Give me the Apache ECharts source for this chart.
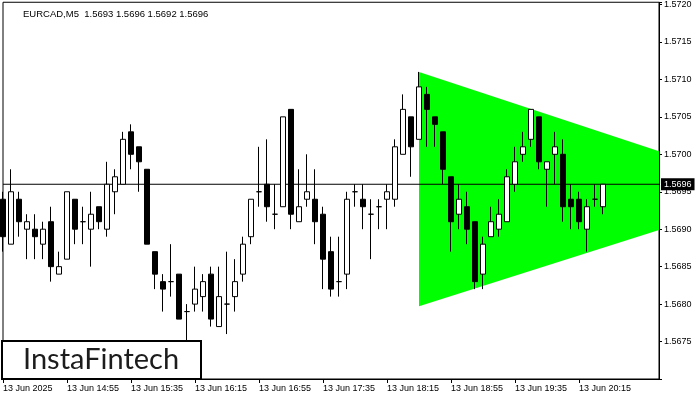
<!DOCTYPE html>
<html>
<head>
<meta charset="utf-8">
<script src="https://cdn.jsdelivr.net/npm/echarts@6/dist/echarts.min.js"></script>
<style>
html,body{margin:0;padding:0;background:#fff;}
#chart{width:700px;height:400px;}
</style>
</head>
<body>
<div id="chart"></div>
<script>
// ---- data (EURCAD M5, 13 Jun 2025) ----
const symbolName = "EURCAD,M5";
const tickLabels = ["13 Jun 2025","13 Jun 14:55","13 Jun 15:35","13 Jun 16:15","13 Jun 16:55",
  "13 Jun 17:35","13 Jun 18:15","13 Jun 18:55","13 Jun 19:35","13 Jun 20:15"];
const openP = [1.5694,1.5688,1.5694,1.5690,1.5690,1.5688,1.5691,1.5684,1.5686,1.5694,
1.5691,1.5690,1.5693,1.5690,1.5695,1.5696,1.5703,1.5701,1.5698,1.5687,
1.5683,1.5683,1.5684,1.5679,1.5680,1.5681,1.5684,1.5677,1.5680,1.5681,
1.5684,1.5689,1.5695,1.5696,1.5692,1.5693,1.5706,1.5691,1.5694,1.5694,
1.5692,1.5687,1.5683,1.5684,1.5695,1.5694,1.5692,1.5693,1.5694,1.5694,
1.5700,1.5705,1.5702,1.5708,1.5705,1.5703,1.5697,1.5692,1.5693,1.5691,
1.5684,1.5689,1.5690,1.5691,1.5696,1.5700,1.5702,1.5705,1.5698,1.5700,
1.5700,1.5694,1.5694,1.5690,1.5694,1.5693];
const closeP = [1.5689,1.5695,1.5691,1.5691,1.5689,1.5690,1.5685,1.5685,1.5695,1.5690,
1.5691,1.5692,1.5691,1.5696,1.5697,1.5702,1.5700,1.5699,1.5688,1.5684,
1.5682,1.5683,1.5678,1.5679,1.5682,1.5683,1.5678,1.5681,1.5680,1.5683,
1.5688,1.5694,1.5695,1.5693,1.5692,1.5705,1.5692,1.5693,1.5695,1.5691,
1.5686,1.5682,1.5683,1.5694,1.5695,1.5693,1.5692,1.5693,1.5695,1.5701,
1.5706,1.5701,1.5709,1.5706,1.5704,1.5698,1.5691,1.5694,1.5690,1.5683,
1.5688,1.5691,1.5692,1.5697,1.5699,1.5701,1.5706,1.5699,1.5699,1.5701,
1.5693,1.5693,1.5691,1.5693,1.5694,1.5696];
const lowP = [1.5687,1.5688,1.5689,1.5686,1.5686,1.5686,1.5683,1.5684,1.5686,1.5688,
1.5688,1.5685,1.5690,1.5689,1.5692,1.5696,1.5698,1.5695,1.5688,1.5682,
1.5679,1.5681,1.5678,1.5675,1.5679,1.5679,1.5677,1.5677,1.5676,1.5679,
1.5683,1.5688,1.5693,1.5691,1.5690,1.5693,1.5690,1.5691,1.5693,1.5688,
1.5682,1.5681,1.5681,1.5682,1.5693,1.5690,1.5686,1.5690,1.5690,1.5693,
1.5700,1.5697,1.5702,1.5701,1.5701,1.5696,1.5687,1.5690,1.5688,1.5682,
1.5682,1.5689,1.5689,1.5691,1.5695,1.5699,1.5701,1.5698,1.5693,1.5696,
1.5691,1.5690,1.5690,1.5687,1.5693,1.5692];
const highP = [1.5695,1.5698,1.5695,1.5692,1.5692,1.5691,1.5693,1.5687,1.5695,1.5694,
1.5693,1.5695,1.5693,1.5699,1.5698,1.5703,1.5704,1.5701,1.5698,1.5687,
1.5684,1.5688,1.5684,1.5680,1.5685,1.5684,1.5685,1.5685,1.5687,1.5686,
1.5689,1.5694,1.5701,1.5702,1.5696,1.5705,1.5706,1.5698,1.5700,1.5698,
1.5693,1.5689,1.5689,1.5695,1.5696,1.5696,1.5694,1.5694,1.5696,1.5702,
1.5708,1.5705,1.5711,1.5709,1.5705,1.5703,1.5697,1.5696,1.5695,1.5691,
1.5689,1.5693,1.5694,1.5698,1.5701,1.5703,1.5706,1.5705,1.5699,1.5703,
1.5702,1.5696,1.5695,1.5694,1.5696,1.5696];
// symmetrical triangle pattern (bar index, upper / lower boundary)
const patternIdx = [52, 82];
const patternUpper = [1.5711, 1.57004];
const patternLower = [1.56797, 1.56899];
const totalSlots = 83;   // bars + empty space to the right
const barsPerTick = 8;

// ---- build ----
const n = openP.length;
const last = n - 1;
const lastPrice = closeP[last];
const categories = Array.from({length: totalSlots}, (_, i) => String(i));
const candleData = openP.map((o, i) => [o, closeP[i], lowP[i], highP[i]]);
const headerText = symbolName + "  " + [openP[last], highP[last], lowP[last], closeP[last]].map(v => v.toFixed(4)).join(" ");
const FONT = "'Liberation Sans', Arial, sans-serif";
const showTick = (idx) => idx % barsPerTick === 0 && idx / barsPerTick < tickLabels.length;

const chart = echarts.init(document.getElementById('chart'), null, {renderer: 'canvas'});
chart.setOption({
  animation: false,
  backgroundColor: '#ffffff',
  title: {
    text: headerText, left: 18, top: 4,
    textStyle: {fontFamily: FONT, fontSize: 9.5, fontWeight: 'normal', color: '#000'}
  },
  grid: {left: 3, right: 41, top: 2, bottom: 21, show: true, borderColor: '#000', borderWidth: 1, backgroundColor: 'transparent'},
  xAxis: {
    type: 'category', data: categories, boundaryGap: false,
    axisLine: {show: true, lineStyle: {color: '#000', width: 1}},
    axisTick: {show: true, length: 4, interval: (idx) => showTick(idx), lineStyle: {color: '#000'}},
    axisLabel: {
      show: true, interval: (idx) => showTick(idx), align: 'left', margin: 5,
      fontFamily: FONT, fontSize: 9, color: '#000',
      formatter: (v, idx) => showTick(idx) ? tickLabels[idx / barsPerTick] : ''
    },
    splitLine: {show: false}
  },
  yAxis: {
    type: 'value', position: 'right', scale: true,
    min: 1.5670, max: 1.57203, interval: 0.0005,
    axisLine: {show: true, lineStyle: {color: '#000', width: 1}},
    axisTick: {show: true, length: 3, lineStyle: {color: '#000'}},
    axisLabel: {
      fontFamily: FONT, fontSize: 9, color: '#000', margin: 5,
      formatter: (v) => {
        const k = v * 2000;
        return (Math.abs(k - Math.round(k)) < 1e-6 && v > 1.56720 && v < 1.57201) ? v.toFixed(4) : '';
      }
    },
    splitLine: {show: false}
  },
  series: [
    {
      type: 'custom', z: 1, clip: false, silent: true,
      data: [[patternIdx[0], patternUpper[0]]],
      renderItem: (params, api) => {
        const p1 = api.coord([patternIdx[0], patternUpper[0]]);
        const p2 = api.coord([patternIdx[1], patternUpper[1]]);
        const p3 = api.coord([patternIdx[1], patternLower[1]]);
        const p4 = api.coord([patternIdx[0], patternLower[0]]);
        return {type: 'polygon', shape: {points: [p1, p2, p3, p4]}, style: {fill: '#00ff00', stroke: null}};
      }
    },
    {
      type: 'line', z: 5, silent: true, symbol: 'none',
      data: [[0, lastPrice], [totalSlots - 1, lastPrice]],
      lineStyle: {color: '#000', width: 1},
      endLabel: {
        show: true, distance: 2,
        formatter: () => lastPrice.toFixed(4),
        backgroundColor: '#000', color: '#fff', padding: [2, 3, 1, 3],
        fontFamily: FONT, fontSize: 9
      }
    },
    {
      type: 'candlestick', z: 10, clip: false,
      data: candleData, barWidth: 5,
      itemStyle: {color: '#ffffff', color0: '#000000', borderColor: '#000000', borderColor0: '#000000', borderWidth: 1}
    }
  ],
  graphic: [
    {
      type: 'group', z: 100,
      children: [
        {type: 'rect', shape: {x: 2, y: 341, width: 199, height: 38},
         style: {fill: '#fff', stroke: '#000', lineWidth: 2}, z: 100},
        {type: 'text', style: {x: 23, y: 360, text: 'InstaFintech', fill: '#1c1c1c',
         font: "400 29px Lato, 'Open Sans', sans-serif", textVerticalAlign: 'middle'}, z: 101}
      ]
    }
  ]
});
</script>
</body>
</html>
